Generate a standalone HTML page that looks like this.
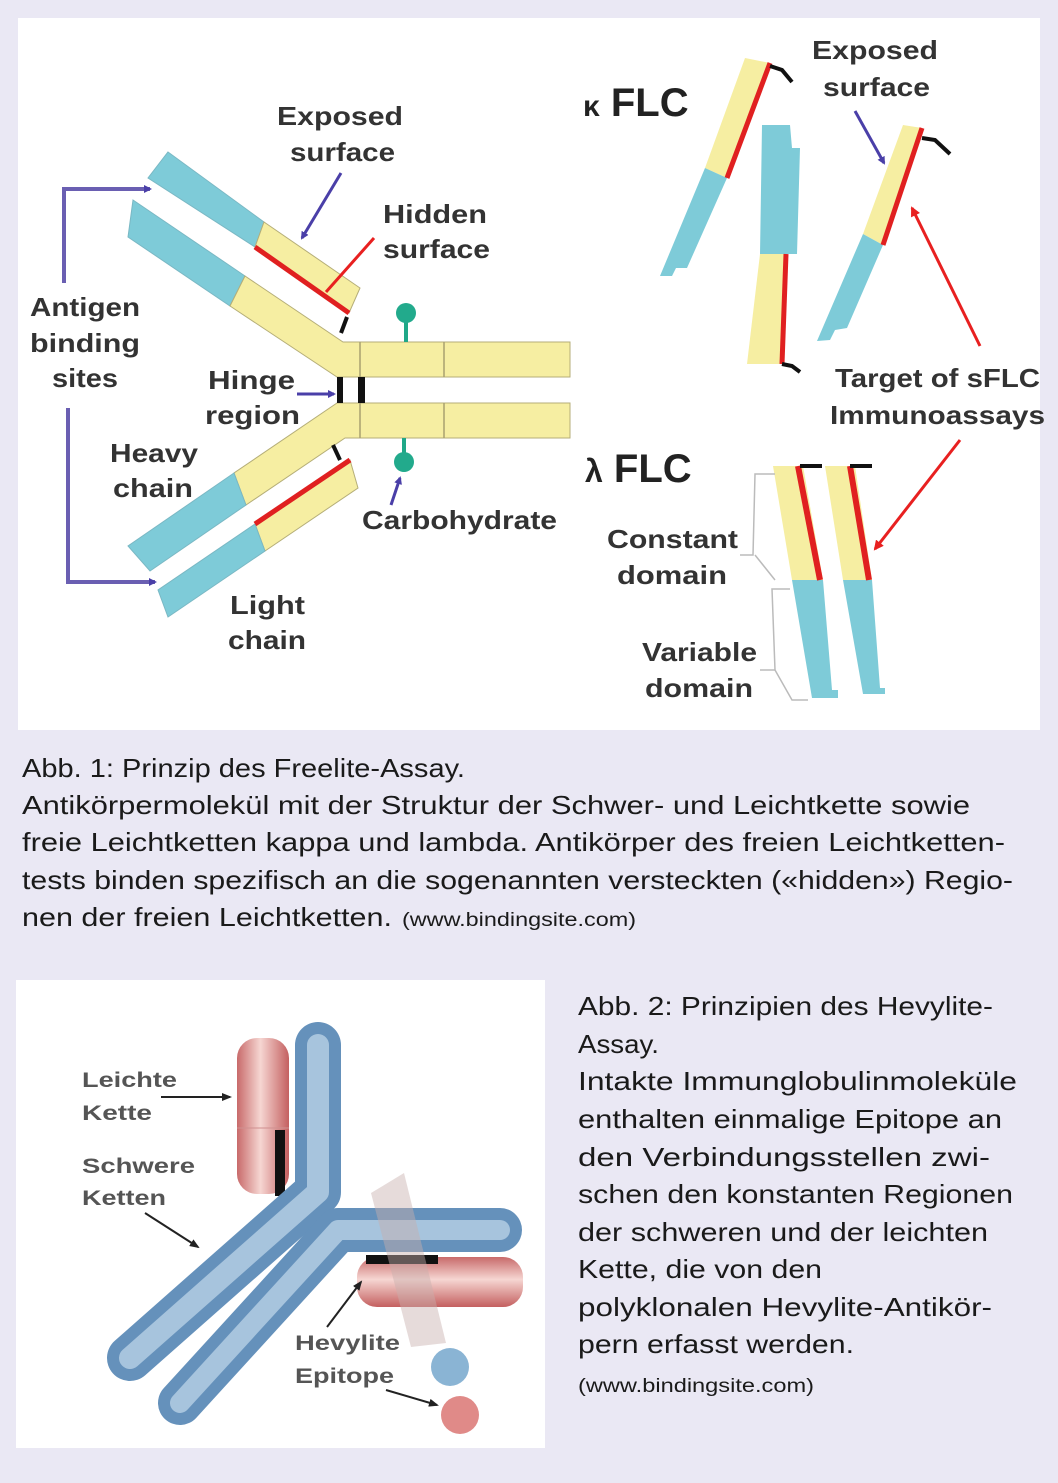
<!DOCTYPE html>
<html><head><meta charset="utf-8"><style>
html,body{margin:0;padding:0;background:#eae8f4;}
svg{display:block;}
.lb{font-family:"Liberation Sans",sans-serif;font-weight:bold;font-size:26px;fill:#333;}
.cap{font-family:"Liberation Sans",sans-serif;font-size:26px;fill:#1a1a1a;}
.sm{font-family:"Liberation Sans",sans-serif;font-size:19px;fill:#1a1a1a;}
.lb2{font-family:"Liberation Sans",sans-serif;font-weight:bold;font-size:21px;fill:#555;}
</style></head><body>
<svg width="1058" height="1483" viewBox="0 0 1058 1483" xmlns="http://www.w3.org/2000/svg">
<defs>
<marker id="ap" markerWidth="8" markerHeight="8" refX="6" refY="4" orient="auto" markerUnits="userSpaceOnUse"><path d="M0,0 L8,4 L0,8 z" fill="#4a3fa8"/></marker>
<marker id="ar" markerWidth="10" markerHeight="10" refX="8" refY="5" orient="auto" markerUnits="userSpaceOnUse"><path d="M0,0 L10,5 L0,10 z" fill="#e82020"/></marker>
<marker id="ak" markerWidth="10" markerHeight="10" refX="8" refY="5" orient="auto" markerUnits="userSpaceOnUse"><path d="M0,1 L10,5 L0,9 z" fill="#222"/></marker>
<linearGradient id="pv" x1="0" x2="1" y1="0" y2="0"><stop offset="0" stop-color="#c86a6a"/><stop offset="0.45" stop-color="#f6d6d2"/><stop offset="1" stop-color="#c46060"/></linearGradient>
<linearGradient id="ph" x1="0" x2="0" y1="0" y2="1"><stop offset="0" stop-color="#c86a6a"/><stop offset="0.45" stop-color="#f6d6d2"/><stop offset="1" stop-color="#c46060"/></linearGradient>
</defs>
<rect x="0" y="0" width="1058" height="1483" fill="#eae8f4"/>
<rect x="18" y="18" width="1022" height="712" fill="#fff"/>
<rect x="16" y="980" width="529" height="468" fill="#fff"/>

<!-- ===== Antibody left ===== -->
<g stroke="#b5ae78" stroke-width="1">
<polygon points="168,152 264,222 255,247 148,178" fill="#7ecbd8" stroke="#7ab8c4"/>
<polygon points="264,222 360,288 349,313 255,247" fill="#f6eea2"/>
<polygon points="133,200 245,276 230,306 128,237" fill="#7ecbd8" stroke="#7ab8c4"/>
<polygon points="245,276 343,342 570,342 570,377 337,377 230,306" fill="#f6eea2"/>
<polygon points="337,403 570,403 570,438 345,438 246,505 234,473" fill="#f6eea2"/>
<polygon points="234,473 246,505 150,571 128,546" fill="#7ecbd8" stroke="#7ab8c4"/>
<polygon points="350,460 358,488 265,551 255,524" fill="#f6eea2"/>
<polygon points="255,524 265,551 168,617 158,590" fill="#7ecbd8" stroke="#7ab8c4"/>
</g>
<g stroke="#a8a070" stroke-width="1.5">
<line x1="360" y1="342" x2="360" y2="377"/><line x1="444" y1="342" x2="444" y2="377"/>
<line x1="360" y1="403" x2="360" y2="438"/><line x1="444" y1="403" x2="444" y2="438"/>
</g>
<line x1="255" y1="247" x2="349" y2="313" stroke="#e02020" stroke-width="5"/>
<line x1="255" y1="524" x2="350" y2="460" stroke="#e02020" stroke-width="5"/>
<rect x="337" y="377" width="6" height="26" fill="#111"/>
<rect x="358" y="377" width="7" height="26" fill="#111"/>
<path d="M347,317 L341,333" stroke="#111" stroke-width="4"/>
<path d="M333,445 L340,460" stroke="#111" stroke-width="4"/>
<line x1="406" y1="318" x2="406" y2="342" stroke="#1fa888" stroke-width="4"/>
<circle cx="406" cy="313" r="10" fill="#22aa8c"/>
<line x1="404" y1="438" x2="404" y2="458" stroke="#1fa888" stroke-width="4"/>
<circle cx="404" cy="462" r="10" fill="#22aa8c"/>
<line x1="391" y1="505" x2="400" y2="478" stroke="#4a3fa8" stroke-width="3" marker-end="url(#ap)"/>
<line x1="341" y1="173" x2="302" y2="238" stroke="#4a3fa8" stroke-width="3" marker-end="url(#ap)"/>
<line x1="297" y1="394" x2="334" y2="394" stroke="#4a3fa8" stroke-width="3" marker-end="url(#ap)"/>
<line x1="374" y1="238" x2="326" y2="292" stroke="#e82020" stroke-width="3"/>
<polyline points="64,283 64,189 150,189" fill="none" stroke="#6a5fb2" stroke-width="4" marker-end="url(#ap)"/>
<polyline points="68,408 68,582 155,582" fill="none" stroke="#6a5fb2" stroke-width="4" marker-end="url(#ap)"/>
<g class="lb">
<text x="277" y="125" textLength="126" lengthAdjust="spacingAndGlyphs">Exposed</text>
<text x="290" y="161" textLength="105" lengthAdjust="spacingAndGlyphs">surface</text>
<text x="383" y="223" textLength="104" lengthAdjust="spacingAndGlyphs">Hidden</text>
<text x="383" y="258" textLength="107" lengthAdjust="spacingAndGlyphs">surface</text>
<text x="30" y="316" textLength="110" lengthAdjust="spacingAndGlyphs">Antigen</text>
<text x="30" y="352" textLength="110" lengthAdjust="spacingAndGlyphs">binding</text>
<text x="52" y="387" textLength="66" lengthAdjust="spacingAndGlyphs">sites</text>
<text x="208" y="389" textLength="87" lengthAdjust="spacingAndGlyphs">Hinge</text>
<text x="205" y="424" textLength="95" lengthAdjust="spacingAndGlyphs">region</text>
<text x="110" y="462" textLength="88" lengthAdjust="spacingAndGlyphs">Heavy</text>
<text x="113" y="497" textLength="80" lengthAdjust="spacingAndGlyphs">chain</text>
<text x="362" y="529" textLength="195" lengthAdjust="spacingAndGlyphs">Carbohydrate</text>
<text x="230" y="614" textLength="75" lengthAdjust="spacingAndGlyphs">Light</text>
<text x="228" y="649" textLength="78" lengthAdjust="spacingAndGlyphs">chain</text>
</g>

<!-- ===== right: kappa ===== -->
<text x="583" y="116" font-family="Liberation Sans,sans-serif" font-weight="bold" font-size="40" fill="#222"><tspan font-size="30">κ</tspan> FLC</text>
<polygon points="745,58 770,63 727,178 705,168" fill="#f6eea2"/>
<polygon points="705,168 727,178 687,268 676,268 672,276 660,276" fill="#7ecbd8"/>
<line x1="770" y1="63" x2="727" y2="178" stroke="#e02020" stroke-width="5"/>
<polyline points="770,66 782,70 792,82" fill="none" stroke="#111" stroke-width="4"/>
<polygon points="762,125 790,125 792,148 800,148 797,254 760,254" fill="#7ecbd8"/>
<polygon points="760,254 786,254 782,364 747,364" fill="#f6eea2"/>
<line x1="786" y1="254" x2="782" y2="364" stroke="#e02020" stroke-width="5"/>
<polyline points="782,364 792,366 800,372" fill="none" stroke="#111" stroke-width="4"/>
<polygon points="903,125 922,128 883,245 863,234" fill="#f6eea2"/>
<polygon points="863,234 883,245 847,328 835,330 830,340 817,341" fill="#7ecbd8"/>
<line x1="922" y1="128" x2="883" y2="245" stroke="#e02020" stroke-width="5"/>
<polyline points="922,138 935,140 950,154" fill="none" stroke="#111" stroke-width="4"/>
<g class="lb">
<text x="812" y="59" textLength="126" lengthAdjust="spacingAndGlyphs">Exposed</text>
<text x="823" y="96" textLength="107" lengthAdjust="spacingAndGlyphs">surface</text>
<text x="835" y="387" textLength="205" lengthAdjust="spacingAndGlyphs">Target of sFLC</text>
<text x="830" y="424" textLength="215" lengthAdjust="spacingAndGlyphs">Immunoassays</text>
<text x="607" y="548" textLength="131" lengthAdjust="spacingAndGlyphs">Constant</text>
<text x="617" y="584" textLength="110" lengthAdjust="spacingAndGlyphs">domain</text>
<text x="642" y="661" textLength="115" lengthAdjust="spacingAndGlyphs">Variable</text>
<text x="645" y="697" textLength="108" lengthAdjust="spacingAndGlyphs">domain</text>
</g>
<line x1="855" y1="111" x2="884" y2="163" stroke="#4a3fa8" stroke-width="3" marker-end="url(#ap)"/>
<line x1="980" y1="346" x2="912" y2="208" stroke="#e82020" stroke-width="3" marker-end="url(#ar)"/>
<line x1="960" y1="440" x2="875" y2="549" stroke="#e82020" stroke-width="3" marker-end="url(#ar)"/>

<!-- lambda -->
<text x="585" y="482" font-family="Liberation Sans,sans-serif" font-weight="bold" font-size="40" fill="#222"><tspan font-size="32">λ</tspan> FLC</text>
<polygon points="773,466 803,466 823,580 792,580" fill="#f6eea2"/>
<polygon points="792,580 823,580 832,690 838,690 838,698 812,698" fill="#7ecbd8"/>
<line x1="798" y1="466" x2="820" y2="580" stroke="#e02020" stroke-width="6"/>
<polygon points="825,466 855,466 872,580 843,580" fill="#f6eea2"/>
<polygon points="843,580 872,580 880,688 885,688 885,694 863,694" fill="#7ecbd8"/>
<line x1="850" y1="466" x2="869" y2="580" stroke="#e02020" stroke-width="6"/>
<line x1="800" y1="466" x2="822" y2="466" stroke="#111" stroke-width="4"/>
<line x1="850" y1="466" x2="872" y2="466" stroke="#111" stroke-width="4"/>
<polyline points="775,474 755,474 753,555 740,555" fill="none" stroke="#bbb" stroke-width="1.5"/>
<polyline points="755,555 775,580" fill="none" stroke="#bbb" stroke-width="1.5"/>
<polyline points="790,589 772,589 775,670 760,670" fill="none" stroke="#bbb" stroke-width="1.5"/>
<polyline points="775,670 792,700 808,700" fill="none" stroke="#bbb" stroke-width="1.5"/>

<!-- ===== captions ===== -->
<text class="cap" x="22" y="777" textLength="443" lengthAdjust="spacingAndGlyphs">Abb. 1: Prinzip des Freelite-Assay.</text>
<text class="cap" x="22" y="814" textLength="948" lengthAdjust="spacingAndGlyphs">Antikörpermolekül mit der Struktur der Schwer- und Leichtkette sowie</text>
<text class="cap" x="22" y="851" textLength="983" lengthAdjust="spacingAndGlyphs">freie Leichtketten kappa und lambda. Antikörper des freien Leichtketten-</text>
<text class="cap" x="22" y="889" textLength="991" lengthAdjust="spacingAndGlyphs">tests binden spezifisch an die sogenannten versteckten («hidden») Regio-</text>
<text class="cap" x="22" y="926" textLength="370" lengthAdjust="spacingAndGlyphs">nen der freien Leichtketten.</text>
<text class="sm" x="402" y="926" textLength="234" lengthAdjust="spacingAndGlyphs">(www.bindingsite.com)</text>

<text class="cap" x="578" y="1015" textLength="415" lengthAdjust="spacingAndGlyphs">Abb. 2: Prinzipien des Hevylite-</text>
<text class="cap" x="578" y="1053" textLength="81" lengthAdjust="spacingAndGlyphs">Assay.</text>
<text class="cap" x="578" y="1090" textLength="439" lengthAdjust="spacingAndGlyphs">Intakte Immunglobulinmoleküle</text>
<text class="cap" x="578" y="1128" textLength="424" lengthAdjust="spacingAndGlyphs">enthalten einmalige Epitope an</text>
<text class="cap" x="578" y="1166" textLength="412" lengthAdjust="spacingAndGlyphs">den Verbindungsstellen zwi-</text>
<text class="cap" x="578" y="1203" textLength="435" lengthAdjust="spacingAndGlyphs">schen den konstanten Regionen</text>
<text class="cap" x="578" y="1241" textLength="410" lengthAdjust="spacingAndGlyphs">der schweren und der leichten</text>
<text class="cap" x="578" y="1278" textLength="244" lengthAdjust="spacingAndGlyphs">Kette, die von den</text>
<text class="cap" x="578" y="1316" textLength="414" lengthAdjust="spacingAndGlyphs">polyklonalen Hevylite-Antikör-</text>
<text class="cap" x="578" y="1353" textLength="276" lengthAdjust="spacingAndGlyphs">pern erfasst werden.</text>
<text class="sm" x="578" y="1392" textLength="236" lengthAdjust="spacingAndGlyphs">(www.bindingsite.com)</text>

<!-- ===== Hevylite image ===== -->
<rect x="237" y="1038" width="52" height="156" rx="20" fill="url(#pv)"/>
<line x1="237" y1="1128" x2="289" y2="1128" stroke="#d09090" stroke-width="1"/>
<rect x="275" y="1130" width="10" height="66" fill="#111"/>
<path d="M318,1045 L318,1192 L130,1358" fill="none" stroke="#6591bb" stroke-width="46" stroke-linecap="round" stroke-linejoin="round"/>
<path d="M318,1045 L318,1192 L130,1358" fill="none" stroke="#b3cde3" stroke-width="22" stroke-linecap="round" stroke-linejoin="round" opacity="0.85"/>
<path d="M500,1230 L338,1230 L180,1403" fill="none" stroke="#6591bb" stroke-width="44" stroke-linecap="round" stroke-linejoin="round"/>
<path d="M500,1230 L338,1230 L180,1403" fill="none" stroke="#b3cde3" stroke-width="20" stroke-linecap="round" stroke-linejoin="round" opacity="0.85"/>
<rect x="357" y="1257" width="166" height="50" rx="20" fill="url(#ph)"/>
<rect x="366" y="1255" width="72" height="9" fill="#111"/>
<polygon points="371,1193 404,1173 446,1343 411,1347" fill="#c8b0ac" opacity="0.45"/>
<text class="lb2" x="82" y="1087" textLength="95" lengthAdjust="spacingAndGlyphs">Leichte</text>
<text class="lb2" x="82" y="1120" textLength="70" lengthAdjust="spacingAndGlyphs">Kette</text>
<line x1="161" y1="1097" x2="230" y2="1097" stroke="#222" stroke-width="2" marker-end="url(#ak)"/>
<text class="lb2" x="82" y="1173" textLength="113" lengthAdjust="spacingAndGlyphs">Schwere</text>
<text class="lb2" x="82" y="1205" textLength="84" lengthAdjust="spacingAndGlyphs">Ketten</text>
<line x1="145" y1="1213" x2="198" y2="1247" stroke="#222" stroke-width="2" marker-end="url(#ak)"/>
<text class="lb2" x="295" y="1350" textLength="105" lengthAdjust="spacingAndGlyphs">Hevylite</text>
<text class="lb2" x="295" y="1383" textLength="99" lengthAdjust="spacingAndGlyphs">Epitope</text>
<line x1="327" y1="1327" x2="361" y2="1282" stroke="#222" stroke-width="2" marker-end="url(#ak)"/>
<line x1="386" y1="1390" x2="437" y2="1405" stroke="#222" stroke-width="2" marker-end="url(#ak)"/>
<circle cx="450" cy="1367" r="19" fill="#8ab4d4"/>
<circle cx="460" cy="1415" r="19" fill="#e08a88"/>
</svg>
</body></html>
